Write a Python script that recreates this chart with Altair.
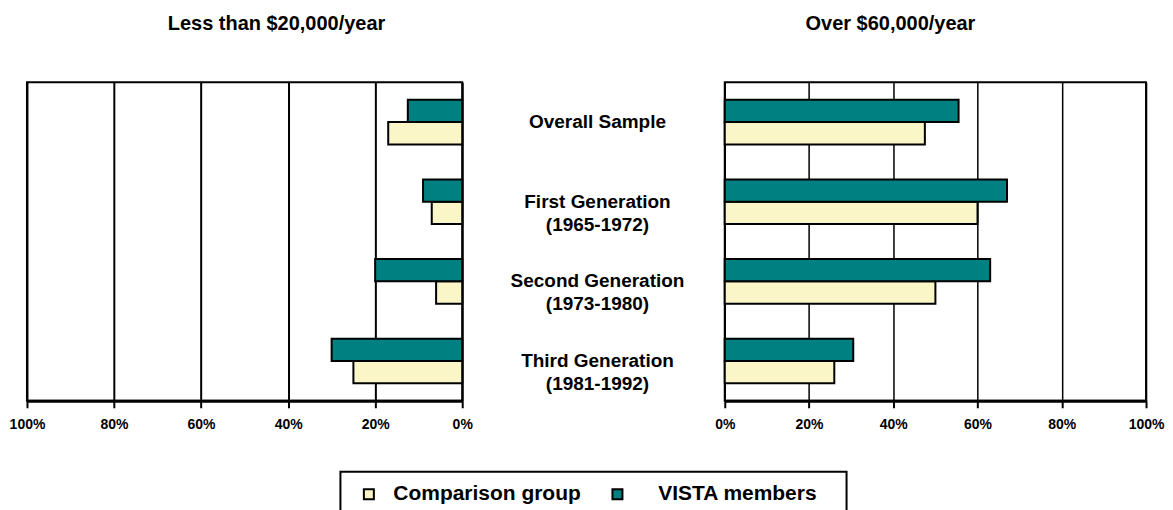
import altair as alt
import pandas as pd

categories = [
    "Overall Sample",
    "First Generation (1965-1972)",
    "Second Generation (1973-1980)",
    "Third Generation (1981-1992)",
]
groups = ["Comparison group", "VISTA members"]

# Less than $20,000/year
low_comparison = [0.17, 0.07, 0.06, 0.25]
low_vista = [0.125, 0.09, 0.20, 0.30]
# Over $60,000/year
high_comparison = [0.475, 0.60, 0.50, 0.26]
high_vista = [0.555, 0.67, 0.63, 0.305]

tick_values = [0, 0.2, 0.4, 0.6, 0.8, 1.0]

rows = []
for i, c in enumerate(categories):
    rows.append({"cat": c, "group": groups[0], "low": low_comparison[i], "high": high_comparison[i]})
    rows.append({"cat": c, "group": groups[1], "low": low_vista[i], "high": high_vista[i]})
df = pd.DataFrame(rows)

FONT = "Liberation Sans"
YELLOW = "#FAF6C8"
TEAL = "#008080"
ZW = "\u200b"   # zero-width guard so the spacing is not trimmed
EN = "\u2002"
NB = "\u00a0"
vista_label = ZW + EN + NB + "VISTA members" + EN + NB + ZW

color = alt.Color(
    "group:N",
    scale=alt.Scale(domain=groups, range=[YELLOW, TEAL]),
    legend=alt.Legend(
        title=None,
        orient="none",
        legendX=314,
        legendY=390,
        direction="horizontal",
        symbolType="square",
        symbolSize=100,
        symbolStrokeColor="black",
        symbolStrokeWidth=2,
        symbolOffset=6,
        labelFontSize=21,
        labelFont=FONT,
        labelFontWeight="bold",
        labelColor="black",
        labelOffset=14,
        labelLimit=400,
        columnPadding=20,
        padding=12,
        strokeColor="black",
        labelExpr="datum.label == 'VISTA members' ? '" + vista_label + "' : datum.label",
    ),
)

y_left = alt.Y(
    "cat:N",
    sort=categories,
    scale=alt.Scale(paddingInner=0.44, paddingOuter=0.22),
    axis=None,
)
y_right = alt.Y(
    "cat:N",
    sort=categories,
    scale=alt.Scale(paddingInner=0.44, paddingOuter=0.22),
    axis=alt.Axis(
        title=None,
        domain=False,
        ticks=False,
        labelAlign="center",
        labelBaseline="middle",
        labelPadding=128,
        labelFontSize=19,
        labelFont=FONT,
        labelFontWeight="bold",
        labelColor="black",
        labelLimit=400,
        labelLineHeight=23,
        labelExpr="split(replace(datum.label, ' (', '|('), '|')",
    ),
)
y_off = alt.YOffset("group:N", scale=alt.Scale(domain=["VISTA members", "Comparison group"]))


def x_axis(grid_width):
    return alt.Axis(
        values=tick_values,
        format="%",
        title=None,
        grid=True,
        gridColor="black",
        gridWidth=grid_width,
        tickSize=7,
        tickWidth=2,
        tickColor="black",
        domainColor="black",
        domainWidth=3,
        labelFontSize=14,
        labelFont=FONT,
        labelFontWeight="bold",
        labelColor="black",
        labelPadding=10,
        labelFlush=False,
        labelOverlap=False,
    )


left = alt.Chart(
    df,
    title=alt.TitleParams(
        "Less than $20,000/year", fontSize=20, font=FONT, fontWeight="bold",
        color="black", dx=32, offset=48, anchor="middle",
    ),
).mark_bar(stroke="black", strokeWidth=2).encode(
    x=alt.X("low:Q", scale=alt.Scale(domain=[0, 1], reverse=True), axis=x_axis(2)),
    y=y_left,
    yOffset=y_off,
    color=color,
).properties(width=436, height=319)

right = alt.Chart(
    df,
    title=alt.TitleParams(
        "Over $60,000/year", fontSize=20, font=FONT, fontWeight="bold",
        color="black", dx=-45, offset=48, anchor="middle",
    ),
).mark_bar(stroke="black", strokeWidth=2).encode(
    x=alt.X("high:Q", scale=alt.Scale(domain=[0, 1]), axis=x_axis(1.5)),
    y=y_right,
    yOffset=y_off,
    color=color,
).properties(width=422, height=319)

chart = alt.hconcat(left, right, spacing=263, bounds="flush").properties(
    padding={"left": 0, "top": 5, "right": 0, "bottom": 0}
).configure_view(
    stroke="black", strokeWidth=2
).configure_legend(
    strokeWidth=2
)

chart.save("out.html", embed_options={"renderer": "svg", "actions": False})
